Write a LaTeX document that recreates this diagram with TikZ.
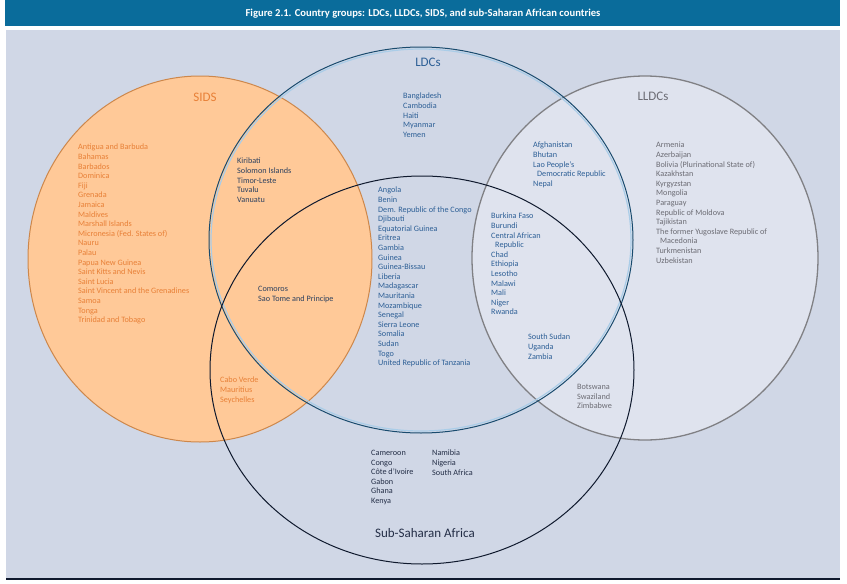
\documentclass[tikz,border=0pt]{standalone}
\usepackage{fontspec}
\setmainfont{Carlito}
\usetikzlibrary{shapes.geometric,positioning}
\definecolor{barblue}{RGB}{10,108,155}
\definecolor{panelbg}{RGB}{208,215,230}
\definecolor{sidsfill}{RGB}{255,201,152}
\definecolor{sidsline}{RGB}{205,135,75}
\definecolor{sidstext}{RGB}{232,128,55}
\definecolor{ldcline}{RGB}{25,75,110}
\definecolor{ldcglow}{RGB}{170,205,232}
\definecolor{ldctext}{RGB}{45,95,150}
\definecolor{lldcline}{RGB}{128,128,132}
\definecolor{lldctext}{RGB}{108,108,116}
\definecolor{ssaline}{RGB}{15,25,45}
\definecolor{ssatext}{RGB}{35,45,70}
\definecolor{mixtext}{RGB}{45,65,95}

\begin{document}
\begin{tikzpicture}[x=1pt, y=-1pt, ring/.style={ellipse,inner sep=0pt,line width=1pt},list/.style={anchor=north west,align=left,inner sep=0pt,font=\fontsize{8.2}{9.6}\selectfont},group/.style={inner sep=0pt,font=\fontsize{13}{15}\selectfont}]%
\useasboundingbox (0,0) rectangle (847,584);
% frame and title
\fill[barblue] (5,0) rectangle (840,26);
\node[text=white,font=\bfseries\fontsize{10.6}{12}\selectfont] (title) at (423,14) {Figure 2.1. Country groups: LDCs, LLDCs, SIDS, and sub-Saharan African countries};
\fill[panelbg] (6,30) rectangle (840,578);
\begin{scope}
\clip (6,30) rectangle (840,578);
\node[ring,fill=sidsfill,draw=sidsline,minimum width=344pt,minimum height=366pt] (sids) at (200,259) {};
\node[ring,fill=white,fill opacity=.32,draw=lldcline,line width=1.3pt,minimum width=346pt,minimum height=364pt] (lldc) at (645,258) {};
\node[ring,draw=ldcglow,line width=1.2pt,minimum width=420pt,minimum height=382pt] (ldcglow) at (421,240) {};
\node[ring,draw=ldcline,minimum width=424pt,minimum height=386pt] (ldc) at (421,240) {};
\node[ring,draw=ssaline,minimum width=424pt,minimum height=388pt] (ssa) at (422,370) {};
\end{scope}
\draw[ssaline,line width=1.2pt] (6,579) -- (840,579);
% group names
\node[group,text=sidstext] (sidsname) at (205,97) {SIDS};
\node[group,text=ldctext] (ldcname) at (428,62) {LDCs};
\node[group,text=lldctext] (lldcname) at (653,96) {LLDCs};
\node[group,text=ssatext] (ssaname) at (425,533) {Sub-Saharan Africa};
% country lists
\begin{scope}[every node/.style={list}]
\node[text=sidstext] (sidsonly) at (78,144) {Antigua and Barbuda\\Bahamas\\Barbados\\Dominica\\Fiji\\Grenada\\Jamaica\\Maldives\\Marshall Islands\\Micronesia (Fed. States of)\\Nauru\\Palau\\Papua New Guinea\\Saint Kitts and Nevis\\Saint Lucia\\Saint Vincent and the Grenadines\\Samoa\\Tonga\\Trinidad and Tobago};
\node[text=mixtext] (sidsldc) at (237,158) {Kiribati\\Solomon Islands\\Timor-Leste\\Tuvalu\\Vanuatu};
\node[text=ldctext] (ldconly) at (403,93) {Bangladesh\\Cambodia\\Haiti\\Myanmar\\Yemen};
\node[text=ldctext] (ldclldc) at (533,142) {Afghanistan\\Bhutan\\Lao People’s\\\hspace*{4pt}Democratic Republic\\Nepal};
\node[text=lldctext] (lldconly) at (656,142) {Armenia\\Azerbaijan\\Bolivia (Plurinational State of)\\Kazakhstan\\Kyrgyzstan\\Mongolia\\Paraguay\\Republic of Moldova\\Tajikistan\\The former Yugoslave Republic of\\\hspace*{4pt}Macedonia\\Turkmenistan\\Uzbekistan};
\node[text=ldctext] (ldcssa) at (378,187) {Angola\\Benin\\Dem. Republic of the Congo\\Djibouti\\Equatorial Guinea\\Eritrea\\Gambia\\Guinea\\Guinea-Bissau\\Liberia\\Madagascar\\Mauritania\\Mozambique\\Senegal\\Sierra Leone\\Somalia\\Sudan\\Togo\\United Republic of Tanzania};
\node[text=ldctext] (allthree) at (491,213) {Burkina Faso\\Burundi\\Central African\\\hspace*{4pt}Republic\\Chad\\Ethiopia\\Lesotho\\Malawi\\Mali\\Niger\\Rwanda};
\node[text=mixtext] (sidsldcssa) at (258,286) {Comoros\\Sao Tome and Principe};
\node[text=sidstext] (sidsssa) at (220,377) {Cabo Verde\\Mauritius\\Seychelles};
\node[text=ldctext] (ldcssalldc) at (528,334) {South Sudan\\Uganda\\Zambia};
\node[text=lldctext] (lldcssa) at (577,384) {Botswana\\Swaziland\\Zimbabwe};
\node[text=ssatext] (ssaonlyA) at (371,450) {Cameroon\\Congo\\Côte d’Ivoire\\Gabon\\Ghana\\Kenya};
\node[text=ssatext] (ssaonlyB) at (432,450) {Namibia\\Nigeria\\South Africa};
\end{scope}
\end{tikzpicture}
\end{document}
